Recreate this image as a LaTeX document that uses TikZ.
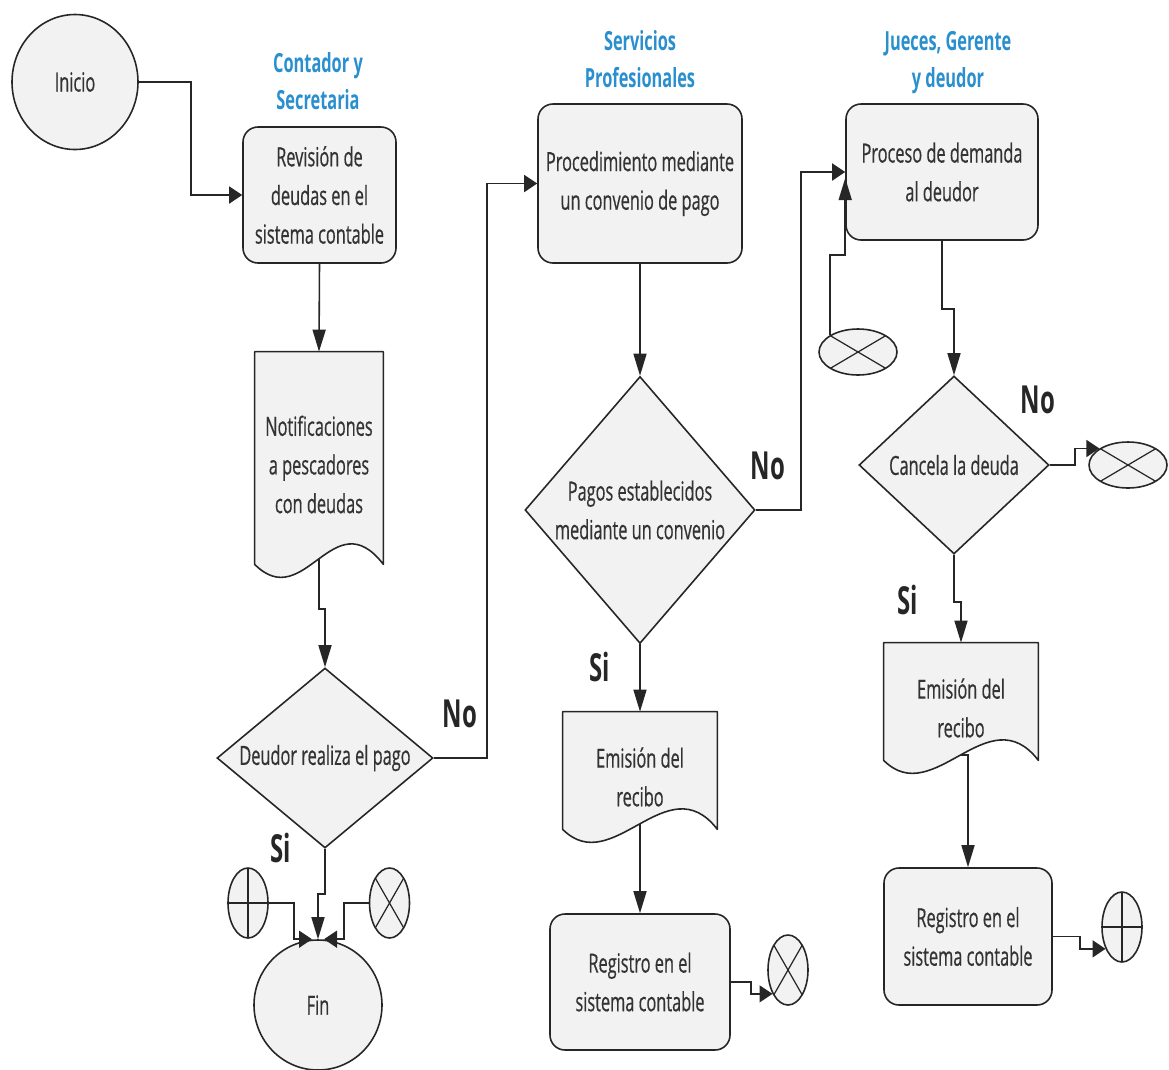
\documentclass[tikz,border=0pt]{standalone}
\usepackage{fontspec}
\setmainfont{Open Sans}[FakeStretch=0.62]
\newfontfamily\bodyfont{Open Sans}[FakeStretch=0.62, FakeBold=0.5]
\usetikzlibrary{shapes.geometric,arrows.meta,calc,backgrounds}

\definecolor{boxfill}{HTML}{F2F2F2}
\definecolor{linegray}{HTML}{262626}
\definecolor{textgray}{HTML}{333333}
\definecolor{laneblue}{HTML}{2A8FCE}

\tikzset{
  base/.style={draw=linegray, fill=boxfill, line width=0.9pt, text=textgray,
    font=\bodyfont\fontsize{15}{22}\selectfont, align=center, inner sep=0pt},
  proc/.style={base, rectangle, rounded corners=0.3cm},
  decision/.style={base, diamond},
  terminal/.style={base, ellipse},
  docnode/.style={rectangle, text=textgray, font=\bodyfont\fontsize{15}{22}\selectfont,
    align=center, inner sep=0pt},
  endx/.style={base, ellipse, path picture={
    \draw[linegray, line width=0.7pt]
      (path picture bounding box.north west) -- (path picture bounding box.south east)
      (path picture bounding box.south west) -- (path picture bounding box.north east);}},
  endplus/.style={base, ellipse, path picture={
    \draw[linegray, line width=0.7pt]
      (path picture bounding box.north) -- (path picture bounding box.south)
      (path picture bounding box.west) -- (path picture bounding box.east);}},
  link/.style={draw=linegray, line width=0.9pt},
  flowh/.style={link, -{Triangle[length=0.26cm,width=0.34cm]}},
  flowv/.style={link, -{Triangle[length=0.44cm,width=0.26cm]}},
  lane/.style={font=\bfseries\fontsize{15}{21}\selectfont, text=laneblue, align=center},
  answer/.style={font=\bfseries\fontsize{22}{24}\selectfont, text=linegray},
}

% document symbol with a wavy bottom
\newcommand{\docwave}[1]{%
  \filldraw[draw=linegray, fill=boxfill, line width=0.9pt, line join=round]
    (#1.north west) -- (#1.north east) -- ($(#1.south east)+(0,0.26)$)
    .. controls +(-1.0,1.3) and +(1.0,-1.0) .. ($(#1.south west)+(0,0.26)$) -- cycle;}

\begin{document}
\begin{tikzpicture}
    \useasboundingbox (0,0) rectangle (23.38,-21.38);

    % lanes
    \node[lane] (laneA) at (6.36,-1.62) {Contador y\\Secretaria};
    \node[lane] (laneB) at (12.80,-1.18) {Servicios\\Profesionales};
    \node[lane] (laneC) at (18.96,-1.25) {Jueces, Gerente\\y deudor};

    % first column
    \node[terminal, minimum width=2.52cm, minimum height=2.7cm] (inicio) at (1.50,-1.64) {Inicio};
    \node[proc, minimum width=3.06cm, minimum height=2.72cm] (revision) at (6.39,-3.90) {Revisión de\\deudas en el\\sistema contable};
    \node[docnode, minimum width=2.56cm, minimum height=4.50cm] (notif) at (6.38,-9.29) {Notificaciones\\a pescadores\\con deudas};
    \node[decision, aspect=1.2, minimum width=4.32cm, minimum height=3.60cm] (pago) at (6.50,-15.16) {Deudor realiza el pago};
    \node[terminal, minimum width=2.56cm, minimum height=2.6cm] (fin) at (6.36,-20.10) {Fin};
    \node[endplus, minimum width=0.8cm, minimum height=1.4cm] (finA) at (4.96,-18.06) {};
    \node[endx, minimum width=0.8cm, minimum height=1.4cm] (finB) at (7.79,-18.06) {};

    % second column
    \node[proc, minimum width=4.08cm, minimum height=3.18cm] (convenio) at (12.80,-3.67) {Procedimiento mediante\\un convenio de pago};
    \node[decision, aspect=0.86, minimum width=4.60cm, minimum height=5.34cm] (pagos) at (12.80,-10.20) {Pagos establecidos\\mediante un convenio};
    \node[docnode, minimum width=3.08cm, minimum height=2.60cm] (reciboB) at (12.80,-15.54) {Emisión del\\recibo};
    \node[proc, minimum width=3.60cm, minimum height=2.72cm] (registroB) at (12.80,-19.64) {Registro en el\\sistema contable};
    \node[endx, minimum width=0.8cm, minimum height=1.4cm] (finC) at (15.76,-19.40) {};

    % third column
    \node[proc, minimum width=3.84cm, minimum height=2.72cm] (demanda) at (18.84,-3.44) {Proceso de demanda\\al deudor};
    \node[endx, minimum width=1.56cm, minimum height=0.92cm] (finD) at (17.16,-7.04) {};
    \node[decision, aspect=1.07, minimum width=3.80cm, minimum height=3.56cm] (cancela) at (19.08,-9.30) {Cancela la deuda};
    \node[endx, minimum width=1.56cm, minimum height=0.92cm] (finE) at (22.56,-9.30) {};
    \node[docnode, minimum width=3.08cm, minimum height=2.60cm] (reciboC) at (19.22,-14.16) {Emisión del\\recibo};
    \node[proc, minimum width=3.36cm, minimum height=2.74cm] (registroC) at (19.36,-18.73) {Registro en el\\sistema contable};
    \node[endplus, minimum width=0.8cm, minimum height=1.4cm] (finF) at (22.44,-18.54) {};

    \begin{scope}[on background layer]
        \fill[white] (0,0) rectangle (23.38,-21.38);
        \docwave{notif}
        \docwave{reciboB}
        \docwave{reciboC}
    \end{scope}

    % answers
    \node[answer] (noA) at (9.20,-14.28) {No};
    \node[answer] (noB) at (15.36,-9.32) {No};
    \node[answer] (noC) at (20.76,-8.00) {No};
    \node[answer] (siA) at (5.62,-16.96) {Si};
    \node[answer] (siB) at (12.00,-13.34) {Si};
    \node[answer] (siC) at (18.16,-12.00) {Si};

    % connectors
    \draw[flowh] (inicio.east) -- ++(1.04,0) |- (revision.west);
    \draw[flowv] (revision.south) -- (notif.north);
    \draw[flowv] ($(notif.south)+(0,0.37)$) -- ++(0,-1.0) -| (pago.north);
    \draw[flowh] (pago.east) -- ++(1.06,0) |- (convenio.west);
    \draw[flowv] (pago.south) -- ++(0,-0.9) -| (fin.north);
    \draw[flowh] (finA.east) -- ++(0.5,0) |- ($(fin.north)+(-0.12,0)$);
    \draw[flowh] (finB.west) -- ++(-0.5,0) |- ($(fin.north)+(0.12,0)$);

    \draw[flowv] (convenio.south) -- (pagos.north);
    \draw[flowh] (pagos.east) -- ++(0.9,0) |- (demanda.west);
    \draw[flowv] (pagos.south) -- (reciboB.north);
    \draw[flowv] ($(reciboB.south)+(0,0.37)$) -- (registroB.north);
    \draw[flowh] (registroB.east) -- ++(0.4,0) |- (finC.237);

    \draw[flowv] (finD.north west) -- ++(0,1.6) -| ($(demanda.west)+(0,-0.12)$);
    \draw[flowv] (demanda.south) -- ++(0,-1.36) -| (cancela.north);
    \draw[flowh] (cancela.east) -- ++(0.5,0) |- (finE.150);
    \draw[flowv] (cancela.south) -- ++(0,-0.94) -| (reciboC.north);
    \draw[flowv] ($(reciboC.south)+(0,0.37)$) -| (registroC.north);
    \draw[flowh] (registroC.east) -- ++(0.54,0) |- (finF.233);

\end{tikzpicture}
\end{document}
